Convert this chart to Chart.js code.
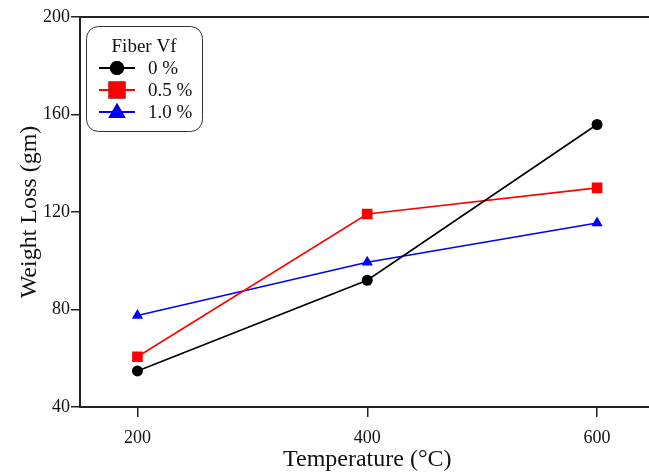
<!DOCTYPE html>
<html>
<head>
<meta charset="utf-8">
<script src="https://cdn.jsdelivr.net/npm/chart.js@4.4.1/dist/chart.umd.min.js"></script>
<style>
  html, body { margin: 0; padding: 0; background: #fff; overflow: hidden; }
  #wrap { width: 662px; height: 472px; }
</style>
</head>
<body>
<div id="wrap"><canvas id="chart"></canvas></div>
<script>
const temperatures = [200, 400, 600];
const seriesNames = ['0 %', '0.5 %', '1.0 %'];
const loss0 = [54.8, 92.0, 155.9];
const loss05 = [60.6, 119.2, 129.9];
const loss10 = [77.5, 99.4, 115.5];
const yTicks = [40, 80, 120, 160, 200];

const serif = "'Liberation Serif', 'Times New Roman', serif";

function points(vals) {
    return temperatures.map((t, i) => ({ x: t, y: vals[i] }));
}

// legend box with line + marker, like the original
const legendBox = {
    id: 'legendBox',
    afterDatasetsDraw(chart) {
        const ctx = chart.ctx;
        const x0 = 86, y0 = 26, w = 116, h = 105, r = 12;
        ctx.save();
        ctx.beginPath();
        ctx.roundRect(x0 + 0.5, y0 + 0.5, w, h, r);
        ctx.fillStyle = '#fff';
        ctx.fill();
        ctx.strokeStyle = '#333';
        ctx.lineWidth = 1;
        ctx.stroke();

        ctx.fillStyle = '#111';
        ctx.font = '19px ' + serif;
        ctx.textAlign = 'center';
        ctx.textBaseline = 'middle';
        ctx.fillText('Fiber Vf', 144, 47);

        const sizes = { circle: 7, rect: 12, triangle: 10 };
        chart.data.datasets.forEach((ds, i) => {
            const y = 68 + i * 22;
            ctx.strokeStyle = ds.borderColor;
            ctx.lineWidth = 2;
            ctx.beginPath();
            ctx.moveTo(99, y);
            ctx.lineTo(135, y);
            ctx.stroke();
            Chart.helpers.drawPoint(ctx, {
                pointStyle: ds.pointStyle,
                radius: sizes[ds.pointStyle],
                rotation: 0,
                borderWidth: 0
            }, 117, ds.pointStyle === 'triangle' ? y + 1 : y);
            ctx.fillStyle = ds.pointBackgroundColor;
            ctx.fill();
            ctx.fillStyle = '#111';
            ctx.textAlign = 'left';
            ctx.fillText(ds.label, 148, y + 1);
        });
        ctx.restore();
    }
};

// top frame line
const topLine = {
    id: 'topLine',
    beforeDatasetsDraw(chart) {
        const a = chart.chartArea;
        const ctx = chart.ctx;
        ctx.save();
        ctx.strokeStyle = '#222';
        ctx.lineWidth = 2;
        ctx.beginPath();
        ctx.moveTo(a.left, a.top);
        ctx.lineTo(a.right + 10, a.top);
        ctx.stroke();
        ctx.restore();
    }
};

new Chart(document.getElementById('chart'), {
    type: 'line',
    data: {
        datasets: [
            { label: seriesNames[0], data: points(loss0), borderColor: '#000', backgroundColor: '#000',
              pointBackgroundColor: '#000', pointStyle: 'circle', pointRadius: 5.5 },
            { label: seriesNames[1], data: points(loss05), borderColor: '#ff0000', backgroundColor: '#ff0000',
              pointBackgroundColor: '#ff0000', pointStyle: 'rect', pointRadius: 7.5 },
            { label: seriesNames[2], data: points(loss10), borderColor: '#0000ff', backgroundColor: '#0000ff',
              pointBackgroundColor: '#0000ff', pointStyle: 'triangle', pointRadius: 6.5 }
        ].map(ds => Object.assign(ds, { borderWidth: 1.6, pointBorderWidth: 0, tension: 0, fill: false }))
    },
    options: {
        responsive: true,
        maintainAspectRatio: false,
        animation: false,
        layout: { padding: { top: 17, right: 4, left: 18, bottom: 0 } },
        plugins: { legend: { display: false }, tooltip: { enabled: false } },
        scales: {
            x: {
                type: 'linear',
                min: 150,
                max: 650,
                afterBuildTicks(axis) { axis.ticks = temperatures.map(v => ({ value: v })); },
                grid: { drawOnChartArea: false, tickLength: 10, color: '#222', lineWidth: 1.5 },
                border: { color: '#222', width: 2 },
                ticks: { color: '#111', font: { family: serif, size: 18, lineHeight: 1 }, padding: 12 },
                title: { display: true, text: 'Temperature (\u00B0C)', color: '#111',
                         font: { family: serif, size: 24, lineHeight: 1 }, padding: { top: -11, bottom: 0 } }
            },
            y: {
                min: 40,
                max: 200,
                afterBuildTicks(axis) { axis.ticks = yTicks.map(v => ({ value: v })); },
                grid: { drawOnChartArea: false, tickLength: 9, color: '#222', lineWidth: 1.5 },
                border: { color: '#222', width: 2 },
                ticks: { color: '#111', font: { family: serif, size: 18, lineHeight: 1 }, padding: 1 },
                title: { display: true, text: 'Weight Loss (gm)', color: '#111',
                         font: { family: serif, size: 24, lineHeight: 1 }, padding: { top: 0, bottom: 0 } }
            }
        }
    },
    plugins: [topLine, legendBox]
});
</script>
</body>
</html>
